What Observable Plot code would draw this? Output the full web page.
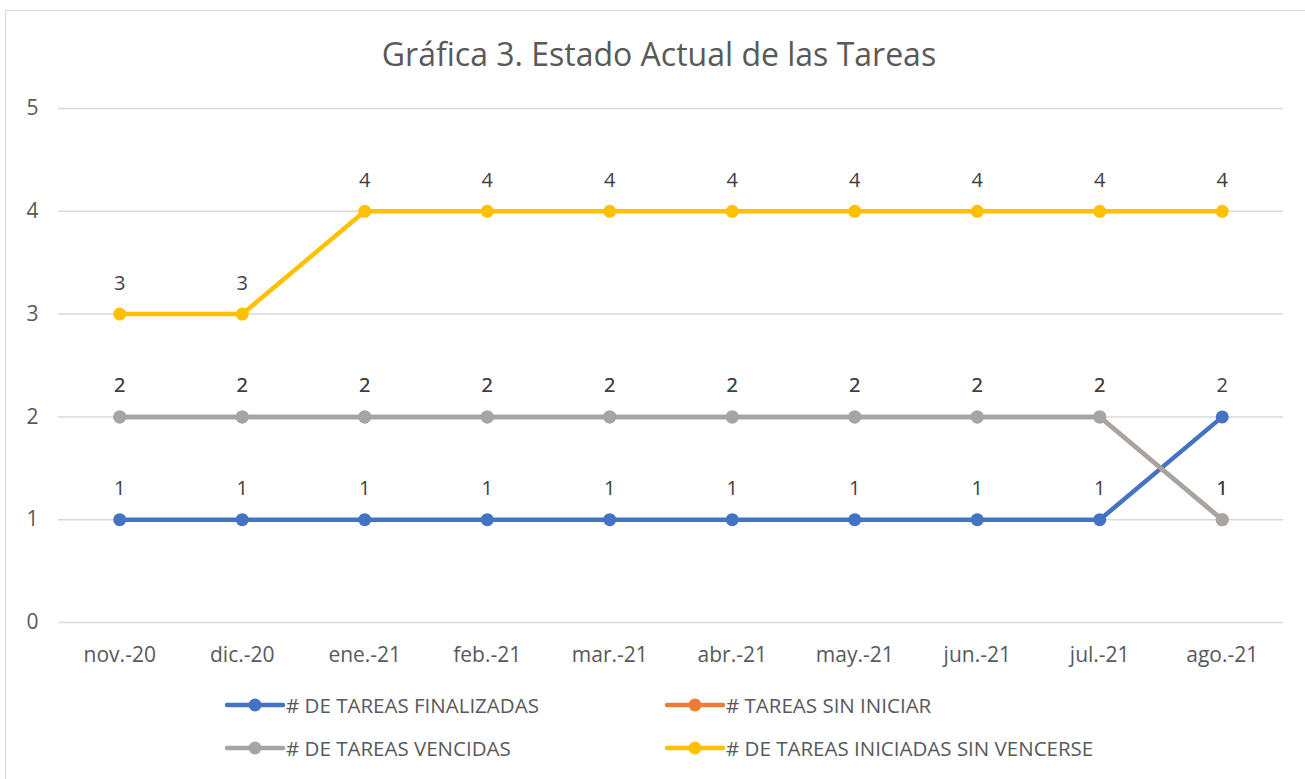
<!DOCTYPE html>
<html>
<head>
<meta charset="utf-8">
<script src="https://cdn.jsdelivr.net/npm/d3@7"></script>
<script src="https://cdn.jsdelivr.net/npm/@observablehq/plot@0.6"></script>
<style>
  body { margin: 0; background: #fff; font-family: "Open Sans", sans-serif; }
  #frame { position: absolute; left: 5px; top: 10px; width: 1310px; height: 780px; border: 1px solid #d9d9d9; box-sizing: border-box; background: #fff; }
  #title { position: absolute; left: 0; top: 25px; width: 1306px; text-align: center; font-size: 32px; color: #595959; line-height: 36px; }
  #chart { position: absolute; left: 0; top: 79px; }
  .leg { position: absolute; display: flex; align-items: center; font-size: 20.5px; color: #595959; white-space: nowrap; }
  .leg svg { margin-right: 0px; }
</style>
</head>
<body>
<div id="frame">
  <div id="title">Gráfica 3. Estado Actual de las Tareas</div>
  <div id="chart"></div>
  <div id="legend"></div>
</div>
<script>
const months = ["nov.-20","dic.-20","ene.-21","feb.-21","mar.-21","abr.-21","may.-21","jun.-21","jul.-21","ago.-21"];
const seriesNames = ["# DE TAREAS FINALIZADAS","# TAREAS SIN INICIAR","# DE TAREAS VENCIDAS","# DE TAREAS INICIADAS SIN VENCERSE"];
const finalizadas = [1,1,1,1,1,1,1,1,1,2];
const sinIniciar  = [2,2,2,2,2,2,2,2,2,1];
const vencidas    = [2,2,2,2,2,2,2,2,2,1];
const iniciadas   = [3,3,4,4,4,4,4,4,4,4];
const colors = ["#4472C4","#ED7D31","#A5A5A5","#FFC000"];
const yTicks = [0,1,2,3,4,5];

const seriesValues = [finalizadas, sinIniciar, vencidas, iniciadas];
const tables = seriesValues.map((vals, i) => months.map((m, j) => ({month: m, value: vals[j], series: seriesNames[i]})));

const marks = [
  Plot.gridY(yTicks, {stroke: "#d9d9d9", strokeOpacity: 1, strokeWidth: 1.5})
];
tables.forEach((t, i) => {
  marks.push(Plot.line(t, {x: "month", y: "value", stroke: colors[i], strokeWidth: 4.5, strokeLinecap: "round", strokeLinejoin: "round"}));
  marks.push(Plot.dot(t, {x: "month", y: "value", fill: colors[i], r: 6.5, stroke: null}));
});
tables.forEach((t, i) => {
  marks.push(Plot.text(t, {x: "month", y: "value", text: d => String(d.value), dy: -31, fill: "#404040", fontSize: 20}));
});

const chart = Plot.plot({
  width: 1294,
  height: 582,
  marginLeft: 52,
  marginRight: 17,
  marginTop: 18,
  marginBottom: 50,
  style: {fontFamily: '"Open Sans", sans-serif', fontSize: "21px", color: "#595959", background: "transparent"},
  x: {type: "point", domain: months, padding: 0.5, round: false, label: null, tickSize: 0, tickPadding: 25},
  y: {domain: [0,5], ticks: yTicks, label: null, tickSize: 0, tickPadding: 20, tickFormat: d3.format("d")},
  marks
});
document.getElementById("chart").appendChild(chart);

// legend
const legendPos = [[218, 694], [658, 694], [218, 737], [658, 737]];
const legend = document.getElementById("legend");
seriesNames.forEach((name, i) => {
  const div = document.createElement("div");
  div.className = "leg";
  div.style.left = legendPos[i][0] + "px";
  div.style.top = (legendPos[i][1] - 14) + "px";
  div.innerHTML = `<svg width="62" height="20"><line x1="3" y1="10" x2="59" y2="10" stroke="${colors[i]}" stroke-width="4.5" stroke-linecap="round"/><circle cx="31" cy="10" r="6.5" fill="${colors[i]}"/></svg><span>${name}</span>`;
  legend.appendChild(div);
});
</script>
</body>
</html>
